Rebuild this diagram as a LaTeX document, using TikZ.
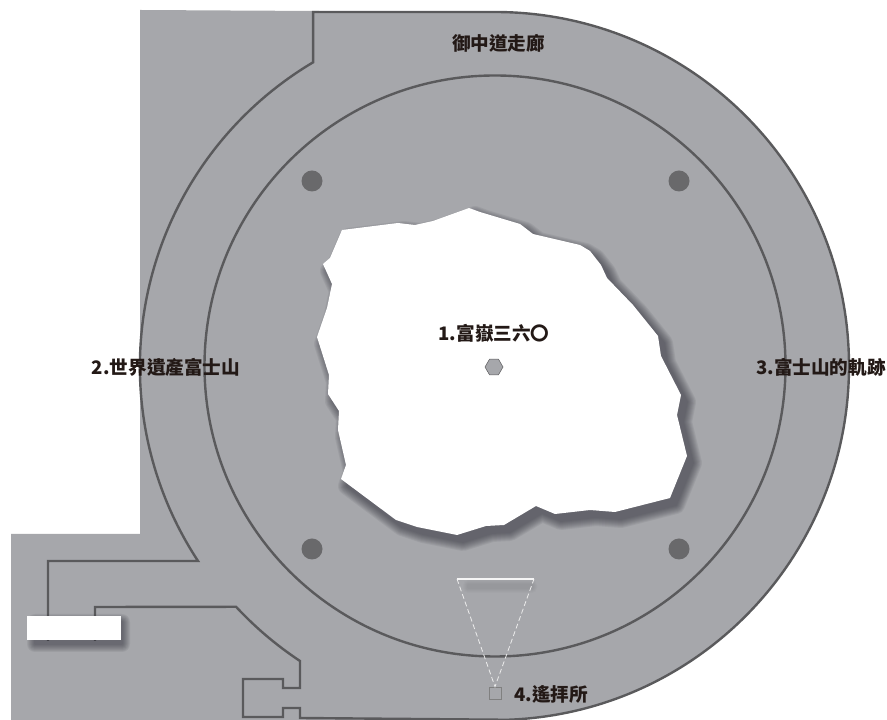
\documentclass[tikz,border=0pt]{standalone}
\usepackage{fontspec}
\newfontfamily\cjk{Noto Sans CJK TC}
\usetikzlibrary{shapes.geometric}
\definecolor{floorgray}{RGB}{166,167,171}
\definecolor{linegray}{RGB}{90,90,92}
\definecolor{dotgray}{RGB}{105,105,107}
\definecolor{shadowgray}{RGB}{45,45,55}
\definecolor{labelblack}{RGB}{35,25,22}
\def\holepath{(342,490) -- (398,497) -- (415,495) -- (433,499) -- (469,512) -- (480,508) -- (520,496) -- (533,486) -- (580,475) -- (590,469) -- (601,455) -- (607,442) -- (633,415) -- (658,384) -- (661,364) -- (681,325) -- (677,305) -- (687,264) -- (670,222) -- (615,208) -- (590,210) -- (555,206) -- (536,214) -- (504,195) -- (486,194) -- (457,185) -- (417,193) -- (396,200) -- (341,241) -- (346,255) -- (338,290) -- (339,309) -- (328,326) -- (329,345) -- (317,383) -- (327,412) -- (332,436) -- (323,456) -- (330,462) -- cycle}
\tikzset{
  wall/.style={draw=linegray, line width=2.4pt},
  label/.style={font=\cjk\bfseries\fontsize{18.6}{18.6}\selectfont, text=labelblack, inner sep=0pt},
  pillar/.style={circle, fill=dotgray, minimum size=21pt, inner sep=0pt},
  softshadow/.style={draw=shadowgray, fill=shadowgray, line join=round},
  softlayer/.style={transparency group, opacity=0.08}
}
\begin{document}
\begin{tikzpicture}[x=1pt, y=1pt]
  \useasboundingbox (0,0) rectangle (887,720);
  \def\cx{495}
  \def\cy{354}
  \def\rout{354}
  \def\rin{290.5}

  % floor
  \fill[floorgray] (140,710) -- (\cx,708) arc[start angle=90, end angle=-90, radius=\rout]
    -- (11,0) -- (11,186) -- (140,186) -- cycle;

  % inner ring
  \draw[wall] (\cx,\cy) circle (\rin);

  % outer walls
  \draw[wall, line join=miter] (48,79) |- (198,159) arc[start angle=213.3, end angle=120.7, radius=\rout] |- (\cx,708)
    arc[start angle=90, end angle=-88, radius=\rout] -- (300,2) -- (300,12) -- (283,12) -- (283,3) -- (243,3) -- (243,41)
    -- (283,41) -- (283,32) -- (300,32) -- (300,59)
    arc[start angle=236.5, end angle=222.9, radius=\rout] -- (95,113) -- (95,79);

  % pillars
  \node[pillar] (pillarnw) at (312,539) {};
  \node[pillar] (pillarne) at (679,539) {};
  \node[pillar] (pillarsw) at (312,171) {};
  \node[pillar] (pillarse) at (679,171) {};

  % hole with shadow
  \foreach \w in {2,4,...,18} {
    \begin{scope}[xshift=6pt, yshift=-7pt, softlayer]
      \path[softshadow, line width=\w pt] \holepath;
    \end{scope}
  }
  \fill[white] \holepath;

  % exit box with shadow
  \foreach \w in {2,4,...,16} {
    \begin{scope}[softlayer]
      \path[softshadow, line width=\w pt] (35,76) rectangle (122,98);
    \end{scope}
  }
  \node[fill=white, minimum width=94pt, minimum height=24pt, inner sep=0pt] (exitbox) at (74,92) {};

  % center mark
  \node[regular polygon, regular polygon sides=6, draw=linegray, fill=floorgray, line width=0.5pt,
    minimum size=18pt, inner sep=0pt] (hexmark) at (494,353) {};

  % view cone
  \coordinate (conel) at (457,141);
  \coordinate (coner) at (534,141);
  \foreach \w in {2,4,...,10} {
    \begin{scope}[softlayer, opacity=0.02]
      \path[softshadow, line width=\w pt] (468,132) rectangle (532,135);
    \end{scope}
  }
  \node[draw=gray, line width=0.7pt, minimum size=12pt, inner sep=0pt] (viewbox) at (495,27) {};
  \draw[white!85!gray, dash pattern=on 5pt off 3pt, line width=0.8pt] (conel) -- (viewbox.north) -- (coner);
  \draw[white!92!gray, line width=1.6pt] (conel) -- (coner);

  % labels
  \node[label] (top) at (498.5,677) {御中道走廊};
  \node[label] (one) at (494,387) {1.富嶽三六〇};
  \node[label] (two) at (166,353) {2.世界遺產富士山};
  \node[label] (three) at (821,353) {3.富士山的軌跡};
  \node[label] (four) at (551,26) {4.遙拝所};
\end{tikzpicture}
\end{document}
